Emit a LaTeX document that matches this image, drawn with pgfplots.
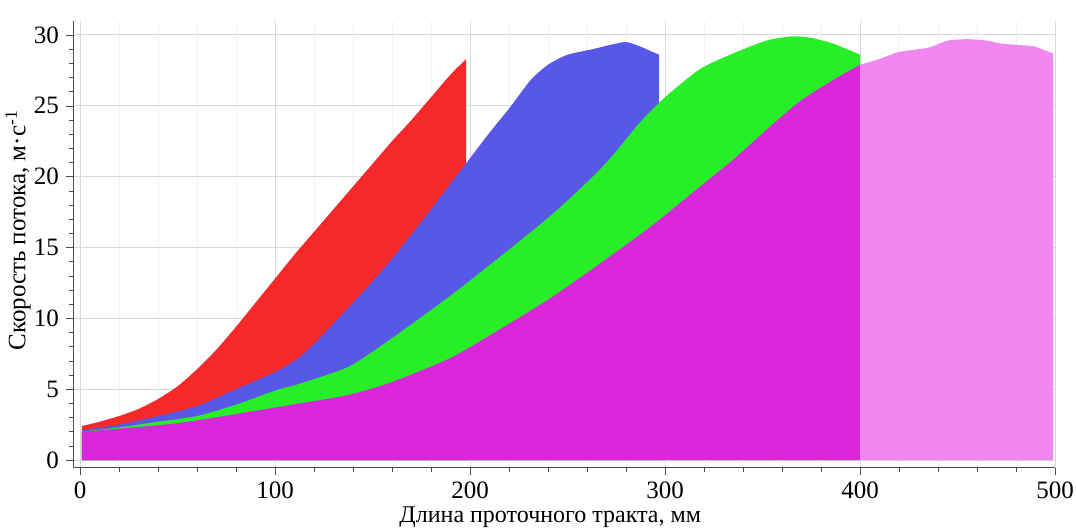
\documentclass[border=0pt]{standalone}
\usepackage{fontspec}
\setmainfont{Liberation Serif}
\usepackage{pgfplots}
\pgfplotsset{compat=1.18}
\definecolor{cred}{RGB}{246,40,40}
\definecolor{cblue}{RGB}{88,88,232}
\definecolor{cgreen}{RGB}{40,238,40}
\definecolor{cmag}{RGB}{218,38,218}
\definecolor{cmagl}{RGB}{240,135,240}
\begin{document}
\begin{tikzpicture}
\useasboundingbox (-40pt,-34pt) rectangle (498pt,230pt);
\begin{axis}[
  at={(-3.5pt,-3.9pt)}, anchor=south west,
  scale only axis, width=491pt, height=223.5pt,
  xmin=-3.6, xmax=500, ymin=-0.55, ymax=31,
  axis lines=left, axis line style={-, black!70},
  xtick={0,100,...,500}, ytick={0,5,...,30},
  minor x tick num=4, minor y tick num=4,
  tick align=outside, major tick length=3.5pt, minor tick length=2pt,
  tick style={black!70},
  xmajorgrids, ymajorgrids, xminorgrids,
  major grid style={gray!30, line width=0.5pt},
  minor grid style={gray!10, line width=0.4pt},
  /pgf/number format/assume math mode=true,
  ticklabel style={font=\fontsize{12.5}{14}\selectfont},
  xlabel={Длина проточного тракта, мм},
  ylabel={Скорость потока, м·с\textsuperscript{-1}},
  xlabel style={font=\fontsize{12}{14}\selectfont, at={([yshift=-24.6pt]axis description cs:0.486,0)}, anchor=center},
  ylabel style={font=\fontsize{12.5}{15}\selectfont, at={([xshift=-27.5pt,yshift=7pt]axis description cs:0,0.5)}, anchor=center},
]
\addplot[fill=cred, draw=none, smooth, tension=0.4] table {
x y
1 2.4
10 2.7
20 3.1
30 3.6
40 4.3
50 5.2
60 6.4
70 7.8
80 9.4
90 11.1
100 12.8
110 14.5
120 16.1
130 17.7
140 19.3
150 20.9
160 22.5
170 24.0
180 25.6
190 27.2
198 28.3
} \closedcycle;
\addplot[fill=cblue, draw=none, smooth, tension=0.4] table {
x y
1 2.1
20 2.5
40 3.1
60 3.8
80 5.0
100 6.2
113 7.3
125 8.9
138 10.8
150 12.6
160 14.2
175 16.8
190 19.5
200 21.3
210 23.1
220 24.8
231 26.8
240 27.9
250 28.6
263 29.0
272 29.3
280 29.5
287 29.2
292 28.9
297 28.6
} \closedcycle;
\addplot[fill=cgreen, draw=none, smooth, tension=0.4] table {
x y
1 2.0
20 2.3
40 2.7
60 3.1
80 3.9
100 4.9
113 5.4
138 6.6
160 8.6
190 11.6
215 14.3
241 17.2
260 19.6
272 21.3
287 23.8
300 25.6
318 27.6
335 28.7
352 29.6
365 29.9
375 29.8
386 29.4
395 28.9
400 28.6
} \closedcycle;
\addplot[fill=cmag, draw=none, smooth, tension=0.4] table {
x y
1 2.0
50 2.6
100 3.7
113 4.0
138 4.6
160 5.5
190 7.2
215 9.2
241 11.4
265 13.7
292 16.4
318 19.3
335 21.2
352 23.3
369 25.3
386 26.8
400 27.9
} \closedcycle;
\addplot[fill=cmagl, draw=none, smooth, tension=0.4] table {
x y
400 27.9
410 28.3
420 28.8
435 29.1
445 29.6
455 29.7
465 29.6
472 29.4
480 29.3
489 29.2
495 28.9
499 28.7
} \closedcycle;
\end{axis}
\end{tikzpicture}
\end{document}
